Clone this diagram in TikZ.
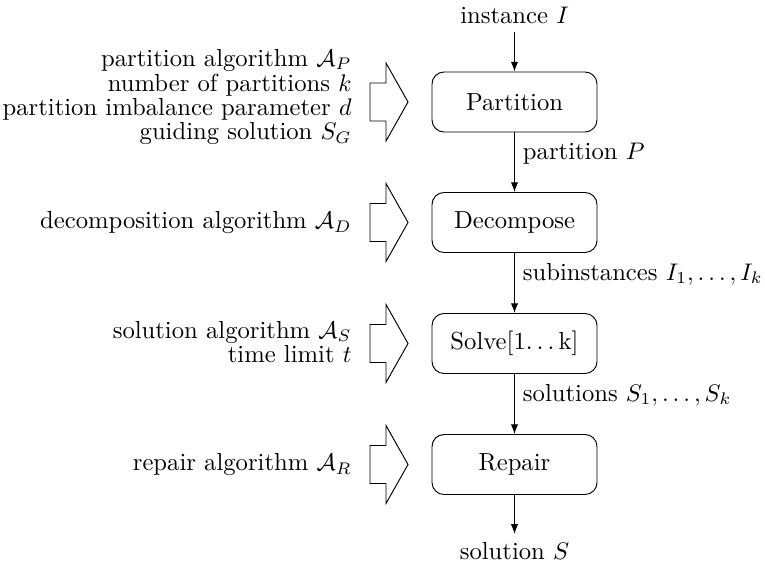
\documentclass[tikz,border=0pt]{standalone}
\usetikzlibrary{arrows.meta}
\newcommand{\oldellipsis}{.\kern\fontdimen3\font.\kern\fontdimen3\font.\kern\fontdimen3\font}
\begin{document}
\begin{tikzpicture}[x=0.41667pt,y=-0.41667pt,
  font={\fontsize{10.27pt}{12.3pt}\selectfont},
  stepbox/.style={draw, rounded corners=5pt, minimum width=68.75pt, minimum height=25pt, inner sep=0pt},
  flow/.style={draw, -{Latex[length=4pt,width=3pt]}},
  edgelabel/.style={right, pos=0.35},
  params/.style={anchor=east, align=right, inner sep=0pt, font={\fontsize{10.27pt}{9.1pt}\selectfont}},
  inarrow/.pic={\draw (-19,-19) -- (-3,-19) -- (-3,-39) -- (19,0) -- (-3,39) -- (-3,19) -- (-19,19) -- cycle;}
]
\useasboundingbox (0,0) rectangle (765,571);
\node (inst) at (514.5,15) {instance $I$};
\node[stepbox] (part) at (514.5,102) {Partition};
\node[stepbox] (dec) at (514.5,222.5) {Decompose};
\node[stepbox] (solve) at (514.5,343.5) {Solve[1\oldellipsis k]};
\node[stepbox] (rep) at (514.5,464.5) {Repair};
\node (sol) at (514.5,551) {solution $S$};

\draw[flow] (inst) -- (part);
\draw[flow] (part) -- node[edgelabel] (lp) {partition $P$} (dec);
\draw[flow] (dec) -- node[edgelabel] (li) {subinstances $I_1,\dots,I_k$} (solve);
\draw[flow] (solve) -- node[edgelabel] (ls) {solutions $S_1,\dots,S_k$} (rep);
\draw[flow] (rep) -- (sol);

\pic at (389,102) {inarrow};
\pic at (389,222.5) {inarrow};
\pic at (389,343.5) {inarrow};
\pic at (389,464.5) {inarrow};

\node[params] (pp) at (352,97) {partition algorithm $\mathcal{A}_P$\\ number of partitions $k$\\ partition imbalance parameter $d$\\ guiding solution $S_G$};
\node[params] (pd) at (352,222.5) {decomposition algorithm $\mathcal{A}_D$};
\node[params] (ps) at (352,342) {solution algorithm $\mathcal{A}_S$\\ time limit $t$};
\node[params] (pr) at (352,464.5) {repair algorithm $\mathcal{A}_R$};
\end{tikzpicture}
\end{document}
